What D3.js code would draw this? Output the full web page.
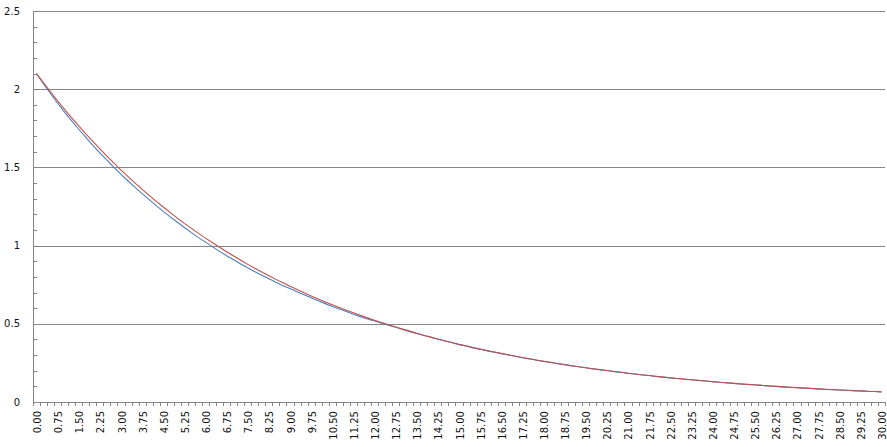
<!DOCTYPE html>
<html>
<head>
<meta charset="utf-8">
<script src="https://cdn.jsdelivr.net/npm/d3@7"></script>
<style>
  html, body { margin: 0; padding: 0; background: #fff; }
  svg { display: block; }
  text { font-family: "DejaVu Sans", Verdana, sans-serif; font-size: 10px; fill: #111; }
</style>
</head>
<body>
<svg id="chart" width="887" height="447"></svg>
<script>
// Categories: 0.00 .. 30.00 by 0.25
const categories = [
  "0.00","0.25","0.50","0.75","1.00","1.25","1.50","1.75","2.00","2.25","2.50","2.75",
  "3.00","3.25","3.50","3.75","4.00","4.25","4.50","4.75","5.00","5.25","5.50","5.75",
  "6.00","6.25","6.50","6.75","7.00","7.25","7.50","7.75","8.00","8.25","8.50","8.75",
  "9.00","9.25","9.50","9.75","10.00","10.25","10.50","10.75","11.00","11.25","11.50","11.75",
  "12.00","12.25","12.50","12.75","13.00","13.25","13.50","13.75","14.00","14.25","14.50","14.75",
  "15.00","15.25","15.50","15.75","16.00","16.25","16.50","16.75","17.00","17.25","17.50","17.75",
  "18.00","18.25","18.50","18.75","19.00","19.25","19.50","19.75","20.00","20.25","20.50","20.75",
  "21.00","21.25","21.50","21.75","22.00","22.25","22.50","22.75","23.00","23.25","23.50","23.75",
  "24.00","24.25","24.50","24.75","25.00","25.25","25.50","25.75","26.00","26.25","26.50","26.75",
  "27.00","27.25","27.50","27.75","28.00","28.25","28.50","28.75","29.00","29.25","29.50","29.75",
  "30.00"
];

// Blue series
const blueValues = [
  2.100,2.034,1.971,1.910, 1.852,1.797,1.744,1.692, 1.641,1.593,1.546,1.500,
  1.455,1.413,1.372,1.332, 1.294,1.256,1.219,1.184, 1.149,1.116,1.083,1.051,
  1.022,0.992,0.963,0.935, 0.909,0.883,0.858,0.833, 0.811,0.788,0.765,0.744,
  0.726,0.705,0.685,0.666, 0.648,0.629,0.611,0.594, 0.578,0.561,0.546,0.531,
  0.518,0.504,0.491,0.478, 0.463,0.450,0.438,0.425, 0.414,0.401,0.390,0.379,
  0.367,0.358,0.346,0.337, 0.327,0.319,0.309,0.300, 0.292,0.283,0.276,0.267,
  0.260,0.253,0.245,0.239, 0.231,0.225,0.219,0.212, 0.206,0.201,0.194,0.190,
  0.183,0.179,0.173,0.169, 0.163,0.159,0.154,0.150, 0.145,0.142,0.137,0.134,
  0.129,0.126,0.122,0.119, 0.115,0.112,0.109,0.106, 0.102,0.100,0.097,0.094,
  0.091,0.089,0.086,0.084, 0.081,0.079,0.077,0.075, 0.072,0.071,0.068,0.067,
  0.064
];

// Red series
const redValues = [
  2.100,2.040,1.982,1.925, 1.870,1.817,1.765,1.714, 1.666,1.618,1.572,1.527,
  1.483,1.441,1.400,1.360, 1.321,1.283,1.247,1.211, 1.176,1.142,1.110,1.078,
  1.048,1.018,0.989,0.961, 0.933,0.906,0.880,0.855, 0.831,0.807,0.784,0.762,
  0.740,0.719,0.698,0.678, 0.659,0.640,0.622,0.604, 0.587,0.570,0.554,0.538,
  0.523,0.508,0.494,0.480, 0.466,0.453,0.440,0.427, 0.415,0.403,0.392,0.381,
  0.369,0.359,0.348,0.338, 0.329,0.320,0.311,0.302, 0.293,0.285,0.277,0.269,
  0.261,0.254,0.246,0.239, 0.232,0.225,0.219,0.213, 0.207,0.201,0.195,0.190,
  0.184,0.179,0.174,0.169, 0.164,0.159,0.155,0.150, 0.146,0.142,0.138,0.134,
  0.130,0.126,0.123,0.119, 0.116,0.113,0.110,0.106, 0.103,0.100,0.097,0.094,
  0.092,0.089,0.087,0.084, 0.082,0.080,0.077,0.075, 0.073,0.071,0.069,0.067,
  0.065
];

const yTicks = [0, 0.5, 1, 1.5, 2, 2.5];
const yTickLabels = ["0", "0.5", "1", "1.5", "2", "2.5"];
const yMinorTicks = [0.1,0.2,0.3,0.4,0.6,0.7,0.8,0.9,1.1,1.2,1.3,1.4,1.6,1.7,1.8,1.9,2.1,2.2,2.3,2.4];

(function () {
const svg = d3.select("#chart");
const mLeft = 33, mRight = 885, mTop = 11, mBottom = 402;

const x = d3.scaleBand().domain(categories).range([mLeft, mRight]).padding(0);
const y = d3.scaleLinear().domain([0, 2.5]).range([mBottom, mTop]);
const cx = c => x(c) + x.bandwidth() / 2;

const axisColor = "#868686";

// Gridlines
svg.append("g").selectAll("line").data(yTicks.filter(v => v > 0)).join("line")
  .attr("x1", mLeft).attr("x2", mRight)
  .attr("y1", d => Math.round(y(d)) + 0.5).attr("y2", d => Math.round(y(d)) + 0.5)
  .attr("stroke", axisColor).attr("stroke-width", 1);

// Y axis line + minor ticks
svg.append("line")
  .attr("x1", mLeft + 0.5).attr("x2", mLeft + 0.5)
  .attr("y1", Math.round(y(2.5)) + 0.5).attr("y2", Math.round(y(0)) + 0.5)
  .attr("stroke", axisColor);
svg.append("g").selectAll("line").data(yMinorTicks).join("line")
  .attr("x1", mLeft).attr("x2", mLeft + 4)
  .attr("y1", d => Math.round(y(d)) + 0.5).attr("y2", d => Math.round(y(d)) + 0.5)
  .attr("stroke", axisColor);

// Y labels
svg.append("g").selectAll("text").data(yTicks).join("text")
  .attr("x", 20).attr("y", d => y(d))
  .attr("dy", "0.35em")
  .attr("text-anchor", "end")
  .text((d, i) => yTickLabels[i]);

// X axis line
svg.append("line")
  .attr("x1", mLeft).attr("x2", mRight)
  .attr("y1", Math.round(y(0)) + 0.5).attr("y2", Math.round(y(0)) + 0.5)
  .attr("stroke", axisColor);

// X ticks at category boundaries
const boundaries = categories.map(c => x(c)).concat([mRight]);
svg.append("g").selectAll("line").data(boundaries).join("line")
  .attr("x1", d => Math.round(d) + 0.5).attr("x2", d => Math.round(d) + 0.5)
  .attr("y1", mBottom).attr("y2", mBottom + 4)
  .attr("stroke", axisColor);

// X labels (every 3rd category), rotated
svg.append("g").selectAll("text").data(categories.filter((c, i) => i % 3 === 0)).join("text")
  .attr("transform", d => `translate(${cx(d) + 1},${mBottom + 9}) rotate(-90)`)
  .attr("dy", "0.35em")
  .attr("text-anchor", "end")
  .text(d => d);

// Lines
const line = d3.line().x((d, i) => cx(categories[i])).y(d => y(d));
svg.append("path").datum(blueValues)
  .attr("d", line).attr("fill", "none")
  .attr("stroke", "#4a7ebb").attr("stroke-width", 1.1);
svg.append("path").datum(redValues)
  .attr("d", line).attr("fill", "none")
  .attr("stroke", "#c0504d").attr("stroke-width", 1.1);
})();
</script>
</body>
</html>
